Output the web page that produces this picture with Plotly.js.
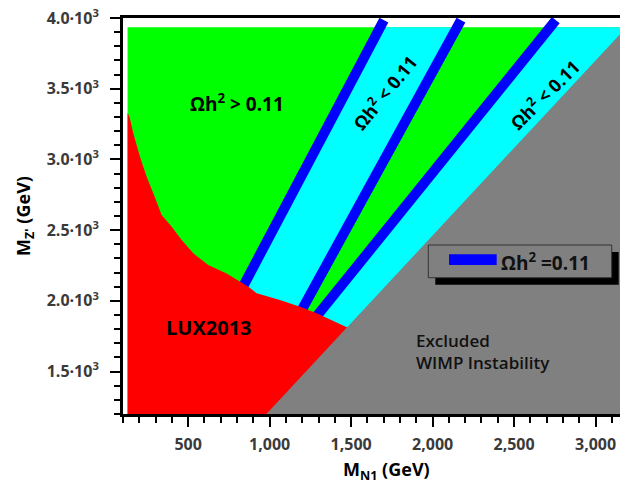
<!DOCTYPE html>
<html><head><meta charset="utf-8">
<script src="https://cdn.plot.ly/plotly-3.0.1.min.js"></script>
<style>html,body{margin:0;padding:0;background:#fff;overflow:hidden}</style>
</head><body><div id="chart" style="width:620px;height:484px"></div>
<script>
// Axis ranges and ticks
const xRange = [100, 3150];
const yRange = [1200, 4000];
const yTickVals = [1500, 2000, 2500, 3000, 3500, 4000];
const yTickText = ["1.5·10<sup>3</sup>", "2.0·10<sup>3</sup>", "2.5·10<sup>3</sup>", "3.0·10<sup>3</sup>", "3.5·10<sup>3</sup>", "4.0·10<sup>3</sup>"];

// Scanned region Ωh² > 0.11 (green cloud)
const overX = [128, 128, 3200, 3200];
const overY = [1200, 3935, 3935, 1200];

// Ωh² < 0.11 bands (cyan)
const underAX = [790, 1678, 2150, 1156];
const underAY = [2000, 3935, 3935, 1850];
const underBX = [1224, 2720, 3200, 3200];
const underBY = [1800, 3935, 3935, 1800];

// Ωh² = 0.11 contours (blue)
const relic1X = [790, 1701];
const relic1Y = [2000, 3985];
const relic2X = [1156, 2174];
const relic2Y = [1850, 3985];
const relic3X = [1224, 2756];
const relic3Y = [1800, 3985];

// LUX2013 excluded region (red)
const luxX = [128, 128, 140, 163, 204, 245, 286, 337, 399, 460, 531, 623, 736, 818, 869, 920, 1063, 1186, 1288, 1500, 1500];
const luxY = [1200, 3328, 3300, 3185, 3019, 2878, 2760, 2607, 2524, 2430, 2336, 2253, 2194, 2135, 2100, 2053, 2006, 1958, 1912, 1800, 1200];

// WIMP instability excluded region (gray)
const wimpX = [980, 3170, 3170];
const wimpY = [1200, 3910, 1200];

const FONT = "'Open Sans', 'Noto Sans', sans-serif";

function area(x, y, color, name) {
  return {x: x, y: y, type: 'scatter', mode: 'lines', fill: 'toself', fillcolor: color,
          line: {width: 0, color: color}, hoverinfo: 'skip', showlegend: false, name: name};
}
function relic(x, y) {
  return {x: x, y: y, type: 'scatter', mode: 'lines', line: {width: 10, color: '#0000ff'},
          hoverinfo: 'skip', showlegend: false, name: 'Ωh² = 0.11'};
}

const data = [
  area(overX, overY, '#00ff00', 'Ωh² > 0.11'),
  area(underAX, underAY, '#00ffff', 'Ωh² < 0.11'),
  area(underBX, underBY, '#00ffff', 'Ωh² < 0.11'),
  relic(relic1X, relic1Y),
  relic(relic2X, relic2Y),
  relic(relic3X, relic3Y),
  area(luxX, luxY, '#ff0000', 'LUX2013'),
  area(wimpX, wimpY, '#808080', 'WIMP instability')
];

const tickFont = {family: FONT, size: 16, color: '#3a3a3a', weight: 'bold'};
const lblFont = {family: FONT, size: 18, color: '#000', weight: 'bold'};

const layout = {
  width: 620, height: 484,
  margin: {l: 123, r: 0, t: 18, b: 70},
  paper_bgcolor: '#fff', plot_bgcolor: '#fff',
  showlegend: false,
  separators: '.,',
  xaxis: {
    range: xRange, showgrid: false, zeroline: false,
    showline: true, linecolor: '#000', linewidth: 3, mirror: true,
    ticks: 'outside', ticklen: 10, tickwidth: 2, tickcolor: '#000',
    tick0: 0, dtick: 500, tickformat: ',d',
    minor: {tickmode: 'linear', tick0: 0, dtick: 100, ticks: 'outside', ticklen: 6, tickwidth: 2, tickcolor: '#000'},
    tickfont: tickFont, ticklabelstandoff: 4
  },
  yaxis: {
    range: yRange, showgrid: false, zeroline: false,
    showline: true, linecolor: '#000', linewidth: 3, mirror: false,
    ticks: 'outside', ticklen: 10, tickwidth: 2, tickcolor: '#000',
    tickmode: 'array', tickvals: yTickVals, ticktext: yTickText,
    minor: {tickmode: 'linear', tick0: 0, dtick: 100, ticks: 'outside', ticklen: 6, tickwidth: 2, tickcolor: '#000'},
    tickfont: tickFont, ticklabelstandoff: 8,
    title: {text: "M<sub>Z'</sub> (GeV)", font: lblFont, standoff: 12}
  },
  shapes: [
    {type: 'rect', xref: 'paper', yref: 'paper', x0: 0.6284, x1: 0.9974, y0: 0.3265, y1: 0.4091,
     fillcolor: '#000', line: {width: 0}, layer: 'above'},
    {type: 'rect', xref: 'paper', yref: 'paper', x0: 0.6143, x1: 0.9833, y0: 0.3442, y1: 0.4268,
     fillcolor: '#808080', line: {width: 1, color: '#333'}, layer: 'above'},
    {type: 'rect', xref: 'paper', yref: 'paper', x0: 0.656, x1: 0.7519, y0: 0.3763, y1: 0.4033,
     fillcolor: '#0000ff', line: {width: 0}, layer: 'above'}
  ],
  annotations: [
    {xref: 'paper', yref: 'paper', x: 0.7565, y: 0.3838, xanchor: 'left', yanchor: 'middle',
     text: 'Ωh<sup>2</sup> =0.11', showarrow: false, font: {family: FONT, size: 19, color: '#111', weight: 'bold'}},
    {xref: 'paper', yref: 'paper', x: 0.531, y: -0.143, xanchor: 'center', yanchor: 'middle',
     text: 'M<sub>N1</sub> (GeV)', showarrow: false, font: lblFont},
    {x: 799, y: 3399, text: 'Ωh<sup>2</sup> &gt; 0.11', showarrow: false,
     font: {family: FONT, size: 19, color: '#000', weight: 'bold'}},
    {x: 1707, y: 3477, text: 'Ωh<sup>2</sup> &lt; 0.11', showarrow: false, textangle: -51,
     font: {family: FONT, size: 18, color: '#000', weight: 'bold'}},
    {x: 2689, y: 3463, text: 'Ωh<sup>2</sup> &lt; 0.11', showarrow: false, textangle: -45,
     font: {family: FONT, size: 18, color: '#000', weight: 'bold'}},
    {x: 628, y: 1811, text: 'LUX2013', showarrow: false,
     font: {family: FONT, size: 20, color: '#000', weight: 'bold'}},
    {x: 1885, y: 1645, xanchor: 'left', align: 'left', text: 'Excluded<br>WIMP Instability', showarrow: false,
     font: {family: FONT, size: 17, color: '#111', weight: 600}}
  ]
};

Plotly.newPlot('chart', data, layout, {displayModeBar: false, staticPlot: true});
</script></body></html>
